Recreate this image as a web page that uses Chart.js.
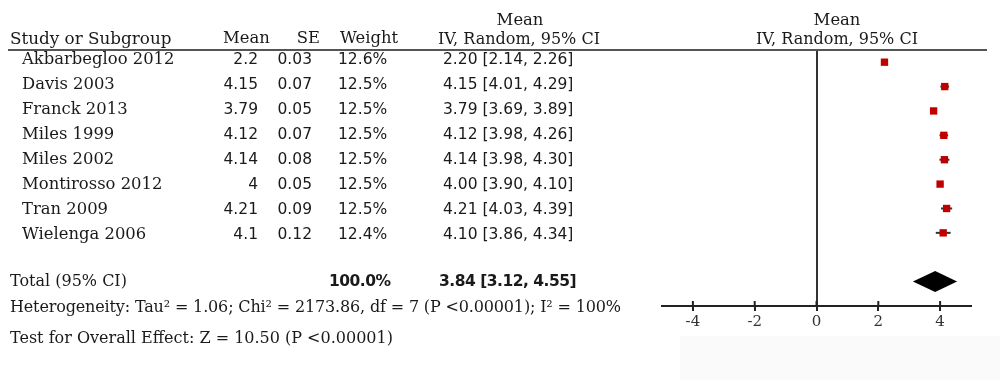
<!DOCTYPE html>
<html>
<head>
<meta charset="utf-8">
<script src="https://cdn.jsdelivr.net/npm/chart.js@4.4.1/dist/chart.umd.min.js"></script>
<style>
  html, body { margin: 0; padding: 0; background: #ffffff; }
  #wrap { position: relative; width: 1000px; height: 380px; overflow: hidden; }
  #shade { position: absolute; left: 680px; top: 336px; width: 320px; height: 44px; background: #fafafa; }
  canvas { position: absolute; left: 0; top: 0; }
  .t { position: absolute; white-space: nowrap; color: #1a1a1a; }
  .serif { font-family: "DejaVu Serif", serif; }
  .sans { font-family: "DejaVu Sans", sans-serif; }
</style>
</head>
<body>
<div id="wrap">
  <div id="shade"></div>
  <canvas id="c" width="1000" height="380"></canvas>
</div>
<script>
// ---- data ----
const studies = ["Akbarbegloo 2012", "Davis 2003", "Franck 2013", "Miles 1999", "Miles 2002", "Montirosso 2012", "Tran 2009", "Wielenga 2006"];
const means = [2.2, 4.15, 3.79, 4.12, 4.14, 4, 4.21, 4.1];
const ses = [0.03, 0.07, 0.05, 0.07, 0.08, 0.05, 0.09, 0.12];
const weights = ["12.6%", "12.5%", "12.5%", "12.5%", "12.5%", "12.5%", "12.5%", "12.4%"];
const ciLow = [2.14, 4.01, 3.69, 3.98, 3.98, 3.90, 4.03, 3.86];
const ciHigh = [2.26, 4.29, 3.89, 4.26, 4.30, 4.10, 4.39, 4.34];
const totalMean = 3.84;
const totalLow = 3.12;
const totalHigh = 4.55;
const totalWeight = "100.0%";
const xTicks = [-4, -2, 0, 2, 4];
const heterogeneityText = "Heterogeneity: Tau\u00B2 = 1.06; Chi\u00B2 = 2173.86, df = 7 (P <0.00001); I\u00B2 = 100%";
const overallText = "Test for Overall Effect: Z = 10.50 (P <0.00001)";

// ---- text layout helpers ----
const wrap = document.getElementById('wrap');
function place(text, x, baseline, opts) {
  const o = Object.assign({ size: 16, cls: 'serif', align: 'left', weight: 'normal', ls: 0 }, opts || {});
  const d = document.createElement('div');
  d.className = 't ' + o.cls;
  d.textContent = text;
  d.style.fontSize = o.size + 'px';
  d.style.lineHeight = o.size + 'px';
  d.style.fontWeight = o.weight;
  d.style.letterSpacing = o.ls + 'px';
  d.style.top = (baseline - 0.846 * o.size) + 'px';
  const W = 400;
  if (o.align === 'left') { d.style.left = x + 'px'; }
  else if (o.align === 'right') { d.style.left = (x - W) + 'px'; d.style.width = W + 'px'; d.style.textAlign = 'right'; }
  else { d.style.left = (x - W / 2) + 'px'; d.style.width = W + 'px'; d.style.textAlign = 'center'; }
  wrap.appendChild(d);
}

// headers
place("Study or Subgroup", 10, 44, { size: 16.8 });
place("Mean", 223, 44, { size: 16.4 });
place("SE", 320, 44, { align: 'right', size: 16.4 });
place("Weight", 340, 44, { size: 16.4 });
place("Mean", 520, 26, { align: 'center', size: 16.4 });
place("IV, Random, 95% CI", 519, 45, { align: 'center' });
place("Mean", 837, 26, { align: 'center', size: 16.4 });
place("IV, Random, 95% CI", 837, 45, { align: 'center' });

// rows
studies.forEach((s, i) => {
  const b = 65 + 25 * i;
  place(s, 22, b, { size: 16.4 });
  place(String(means[i]), 258, b, { cls: 'sans', size: 15.5, align: 'right' });
  place(String(ses[i]), 312, b, { cls: 'sans', size: 15.5, align: 'right' });
  place(weights[i], 338, b, { cls: 'sans', size: 15.5 });
  place(means[i].toFixed(2) + " [" + ciLow[i].toFixed(2) + ", " + ciHigh[i].toFixed(2) + "]", 443, b, { cls: 'sans', size: 15.5 });
});

// totals
place("Total (95% CI)", 10, 287);
place(totalWeight, 329, 287, { cls: 'sans', size: 15.5, weight: 'bold', ls: -0.5 });
place(totalMean.toFixed(2) + " [" + totalLow.toFixed(2) + ", " + totalHigh.toFixed(2) + "]", 439, 287, { cls: 'sans', size: 15.5, weight: 'bold', ls: -0.5 });
place(heterogeneityText, 10, 313, { size: 16, ls: -0.15 });
place(overallText, 10, 344);

// ---- forest plot ----
const totalRow = studies.length + 1;
const forestPlugin = {
  id: 'forest',
  beforeDatasetsDraw(chart) {
    const { ctx, scales: { x, y } } = chart;
    ctx.save();
    ctx.strokeStyle = '#333';
    ctx.lineWidth = 2;
    ciLow.forEach((lo, i) => {
      const py = y.getPixelForValue(i);
      ctx.beginPath();
      ctx.moveTo(x.getPixelForValue(lo), py);
      ctx.lineTo(x.getPixelForValue(ciHigh[i]), py);
      ctx.stroke();
    });
    ctx.restore();
  },
  afterDraw(chart) {
    const { ctx, chartArea, scales: { x, y } } = chart;
    ctx.save();
    // header rule across the table
    ctx.fillStyle = '#555';
    ctx.fillRect(8, chartArea.top - 1, 979, 2);
    // upper halves of tick marks
    ctx.strokeStyle = '#222';
    ctx.lineWidth = 2;
    xTicks.forEach(v => {
      const px = x.getPixelForValue(v);
      ctx.beginPath();
      ctx.moveTo(px, chartArea.bottom - 5);
      ctx.lineTo(px, chartArea.bottom);
      ctx.stroke();
    });
    // summary diamond
    const py = y.getPixelForValue(totalRow);
    const half = 10.5;
    ctx.fillStyle = '#000';
    ctx.beginPath();
    ctx.moveTo(x.getPixelForValue(totalLow), py);
    ctx.lineTo(x.getPixelForValue(totalMean), py - half);
    ctx.lineTo(x.getPixelForValue(totalHigh), py);
    ctx.lineTo(x.getPixelForValue(totalMean), py + half);
    ctx.closePath();
    ctx.fill();
    ctx.restore();
  }
};

new Chart(document.getElementById('c'), {
  type: 'scatter',
  data: {
    datasets: [{
      data: means.map((m, i) => ({ x: m, y: i })),
      pointStyle: 'rect',
      pointRadius: 5.2,
      backgroundColor: '#c00000',
      borderWidth: 0
    }]
  },
  options: {
    responsive: false,
    animation: false,
    devicePixelRatio: 1,
    layout: { padding: { left: 662, right: 29, top: 50, bottom: 34 } },
    plugins: { legend: { display: false }, tooltip: { enabled: false } },
    scales: {
      x: {
        type: 'linear',
        min: -5,
        max: 5,
        afterBuildTicks: s => { s.ticks = xTicks.map(v => ({ value: v })); },
        afterFit: s => { s.height = 40; },
        grid: {
          drawOnChartArea: true,
          color: c => (c.tick && c.tick.value === 0) ? '#333' : 'rgba(0,0,0,0)',
          tickColor: '#222',
          tickLength: 5,
          lineWidth: 2
        },
        border: { display: true, color: '#222', width: 2 },
        ticks: { font: { family: 'DejaVu Serif', size: 15 }, color: '#333', padding: 2 }
      },
      y: { type: 'linear', min: -0.5, max: 10, reverse: true, display: false }
    }
  },
  plugins: [forestPlugin]
});
</script>
</body>
</html>
